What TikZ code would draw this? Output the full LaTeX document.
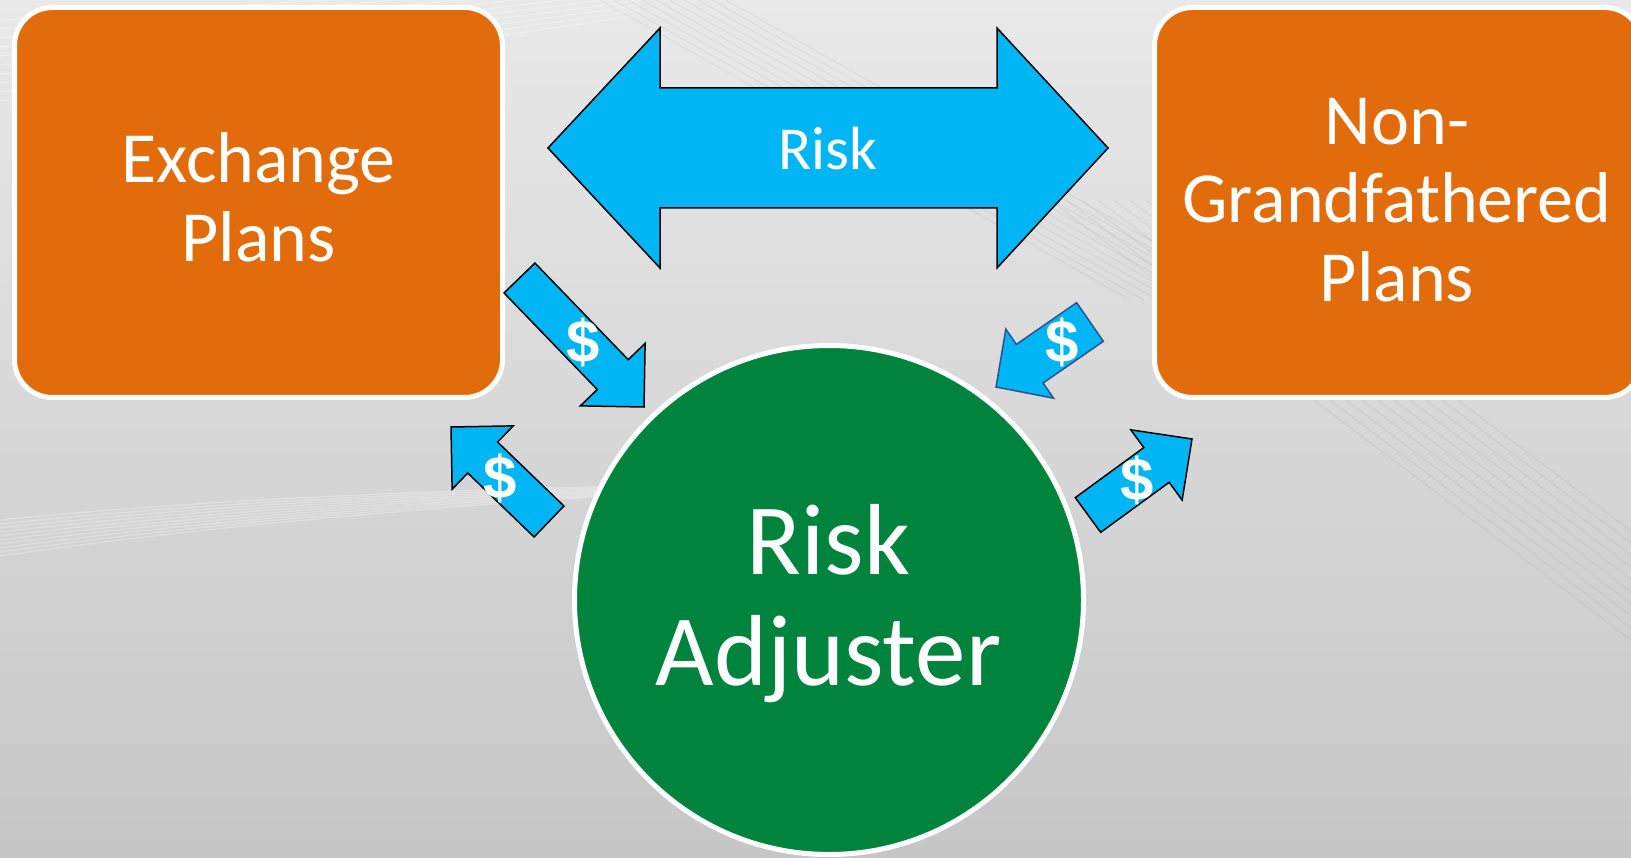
\documentclass[tikz,border=0pt]{standalone}
\usepackage{fontspec}
\setmainfont{Carlito}
\newfontfamily\dollarfont{Liberation Sans}
\usetikzlibrary{calc}
\definecolor{bgtop}{HTML}{E9E9E9}
\definecolor{bgmid}{HTML}{DADADA}
\definecolor{bgbot}{HTML}{C6C6C6}
\definecolor{planorange}{HTML}{E26B0B}
\definecolor{adjgreen}{HTML}{00843D}
\definecolor{arrowblue}{HTML}{00B5F4}
\definecolor{edgeblue}{HTML}{2F528F}
\tikzset{
  planbox/.style={draw=white, line width=5pt, fill=planorange, rounded corners=38pt,
    minimum width=488pt, minimum height=390pt, inner sep=0pt, outer sep=0pt},
  adjcircle/.style={circle, draw=white, line width=5pt, fill=adjgreen,
    minimum size=509pt, inner sep=0pt, outer sep=0pt},
  boxtext/.style={text=white, font=\fontsize{72}{79}\selectfont, anchor=base, inner sep=0pt},
  adjtext/.style={text=white, font=\fontsize{101}{111}\selectfont, anchor=base, inner sep=0pt},
  risktext/.style={text=white, font=\fontsize{61}{70}\selectfont, anchor=base, inner sep=0pt},
  blockarrow/.style={draw=black, line width=1.5pt, fill=arrowblue, line join=miter},
  dollar/.style={text=white, font=\dollarfont\bfseries\fontsize{60}{62}\selectfont, inner sep=0pt},
  bgline/.style={white, opacity=0.3, line width=1.2pt},
  bgdark/.style={black, opacity=0.05, line width=1pt}
}
% tail, tip, half shaft, half head, head length
\newcommand\dollararrow[6][]{%
  \coordinate (hb) at ($(#3)!#6!(#2)$);
  \draw[blockarrow,#1]
    ($(#2)!#4!90:(#3)$) -- ($(hb)!#4!90:(#3)$) -- ($(hb)!#5!90:(#3)$) -- (#3)
    -- ($(hb)!#5!-90:(#3)$) -- ($(hb)!#4!-90:(#3)$) -- ($(#2)!#4!-90:(#3)$) -- cycle;
}
\begin{document}
\begin{tikzpicture}[x=1pt,y=-1pt]
\useasboundingbox (0,0) rectangle (1631,858);
\clip (0,0) rectangle (1631,858);
% background
\shade[top color=bgtop, middle color=bgmid, bottom color=bgbot] (0,0) rectangle (1631,858);
\foreach \k in {0,...,9}{
  \draw[bgline] (0,{520+4*\k}) .. controls (200,{500+3*\k}) and (400,{492+2*\k}) .. (620,{486+\k});
  \draw[bgline] (0,{20+9*\k}) .. controls (200,{10+7*\k}) and (420,{-5+6*\k}) .. (640,{-30+5*\k});
  \draw[bgdark] ({600+14*\k},0) -- ({1130+14*\k},300);
  \draw[bgdark] ({1050+16*\k},200) -- ({1631+16*\k},640);
}
% plan boxes
\node[planbox] (exch) at (258.5,202.5) {};
\node[planbox] (ngf) at (1398.5,202.5) {};
\node[boxtext] (exch1) at (258.5,183) {Exchange};
\node[boxtext] (exch2) at (258.5,262) {Plans};
\node[boxtext] (ngf1) at (1397,145) {Non-};
\node[boxtext] (ngf2) at (1397,223) {Grandfathered};
\node[boxtext] (ngf3) at (1397,302) {Plans};
% risk adjuster
\node[adjcircle] (adj) at (829,600) {};
\node[adjtext] (adj1) at (828.5,574) {Risk};
\node[adjtext] (adj2) at (828.5,685) {Adjuster};
% big double arrow
\coordinate (rL) at (548,148);
\coordinate (rR) at (1108,148);
\draw[blockarrow] (rL) -- ++(112,-120) -- ++(0,60) -- ($(rR)+(-111,-60)$) -- ++(0,-60)
  -- (rR) -- ++(-111,120) -- ++(0,-60) -- ($(rL)+(112,60)$) -- ++(0,60) -- cycle;
\node[risktext] (risklbl) at (828,170) {Risk};
% small dollar arrows
\coordinate (aT) at (519.5,278); \coordinate (aP) at (644,407);
\coordinate (bT) at (549,521.5); \coordinate (bP) at (451,427);
\coordinate (cT) at (1090,322);  \coordinate (cP) at (996,387);
\coordinate (dT) at (1088,515);  \coordinate (dP) at (1192,439);
\dollararrow{aT}{aP}{21.5pt}{45pt}{45pt}
\dollararrow{bT}{bP}{21.5pt}{44pt}{44pt}
\dollararrow[draw=edgeblue]{cT}{cP}{23.5pt}{42pt}{41pt}
\dollararrow{dT}{dP}{21.5pt}{43.5pt}{44pt}
\node[dollar] (dA) at (583,342) {\$};
\node[dollar] (dB) at (500,478) {\$};
\node[dollar] (dC) at (1062,342) {\$};
\node[dollar] (dD) at (1137,480) {\$};
\end{tikzpicture}
\end{document}
